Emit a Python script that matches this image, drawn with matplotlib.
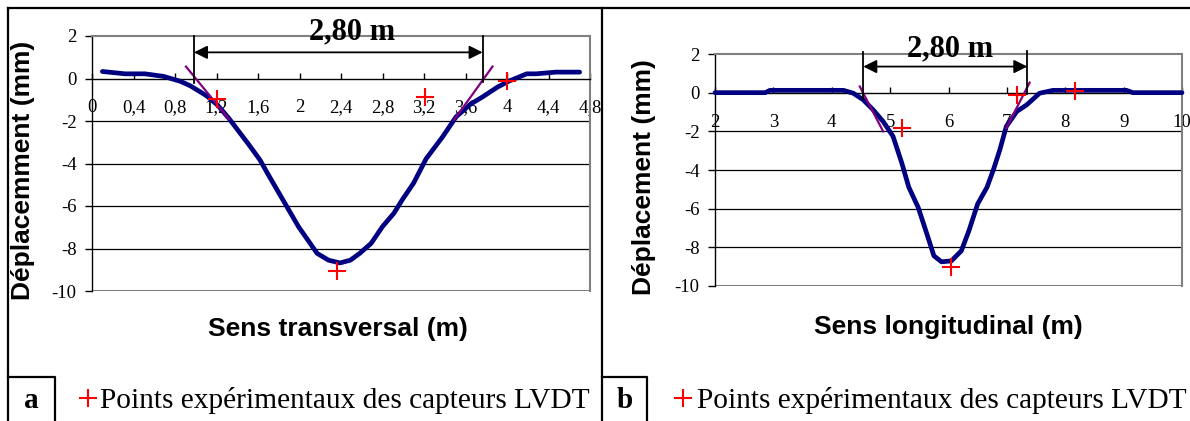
import matplotlib
matplotlib.use("Agg")
import matplotlib.pyplot as plt
from matplotlib.lines import Line2D

plt.rcParams['axes.unicode_minus'] = False

# ---------------- data ----------------
# Panel a : transverse profile
xa = [0.10, 0.32, 0.51, 0.69, 0.85, 0.95, 1.10, 1.21, 1.32, 1.51, 1.62, 1.69, 1.84, 1.99,
      2.17, 2.28, 2.39, 2.49, 2.58, 2.69, 2.80, 2.91, 2.99, 3.10, 3.22, 3.38, 3.51, 3.65,
      3.76, 3.91, 4.02, 4.19, 4.28, 4.47, 4.70]
ya = [0.33, 0.22, 0.22, 0.10, -0.13, -0.35, -0.80, -1.25, -1.88, -3.10, -3.84, -4.45, -5.71, -6.97,
      -8.23, -8.55, -8.68, -8.55, -8.23, -7.76, -6.97, -6.34, -5.71, -4.92, -3.78, -2.74, -1.80, -1.20,
      -0.88, -0.40, -0.12, 0.22, 0.22, 0.30, 0.30]
pts_a_x = [1.20, 2.36, 3.21, 4.00]
pts_a_y = [-0.96, -9.05, -0.89, -0.12]
tan_a_left_x = [0.906, 1.32]
tan_a_left_y = [0.56, -1.91]
tan_a_right_x = [3.49, 3.86]
tan_a_right_y = [-1.95, 0.56]
dim_a = [0.983, 3.765]
xticks_a = [0, 0.4, 0.8, 1.2, 1.6, 2, 2.4, 2.8, 3.2, 3.6, 4, 4.4, 4.8]
xticklabels_a = ["0", "0,4", "0,8", "1,2", "1,6", "2", "2,4", "2,8", "3,2", "3,6", "4", "4,4", "4,8"]

# Panel b : longitudinal profile
xb = [2.0, 2.86, 2.94, 4.20, 4.37, 4.54, 4.71, 4.88, 5.05, 5.20, 5.32, 5.48, 5.63, 5.75,
      5.88, 6.05, 6.22, 6.35, 6.50, 6.66, 6.77, 6.88, 6.99, 7.17, 7.34, 7.56, 7.79, 9.05,
      9.16, 10.0]
yb = [0.0, 0.0, 0.12, 0.12, -0.03, -0.37, -0.89, -1.49, -2.26, -3.64, -4.89, -5.93, -7.31, -8.44,
      -8.75, -8.70, -8.18, -7.14, -5.75, -4.89, -3.98, -2.95, -1.75, -0.97, -0.63, -0.03, 0.12, 0.12,
      0.0, 0.0]
pts_b_x = [5.21, 6.05, 7.18, 8.16]
pts_b_y = [-1.83, -9.0, -0.11, 0.09]
tan_b_left_x = [4.48, 4.88]
tan_b_left_y = [0.32, -2.0]
tan_b_right_x = [6.99, 7.39]
tan_b_right_y = [-1.83, 0.52]
dim_b = [4.54, 7.35]
xticks_b = [2, 3, 4, 5, 6, 7, 8, 9, 10]
xticklabels_b = ["2", "3", "4", "5", "6", "7", "8", "9", "10"]

yticks = [2, 0, -2, -4, -6, -8, -10]
yticklabels = ["2", "0", "-2", "-4", "-6", "-8", "-10"]
dim_label = "2,80 m"
legend_label = "Points expérimentaux des capteurs LVDT"

# ---------------- figure ----------------
W, H = 1190, 421
fig = plt.figure(figsize=(W / 100, H / 100), dpi=100)

SERIF = "Liberation Serif"
SANS = "Liberation Sans"
NAVY = "#000080"
PURPLE = "#800080"
GRAY = "#808080"


def px_axes(l, t, r, b):
    return fig.add_axes([l / W, 1 - b / H, (r - l) / W, (b - t) / H])


def setup(ax, xlim, xt, xtl):
    ax.set_xlim(*xlim)
    ax.set_ylim(-10, 2)
    ax.spines['top'].set_color(GRAY)
    ax.spines['right'].set_color(GRAY)
    ax.spines['top'].set_linewidth(1.5)
    ax.spines['right'].set_linewidth(1.5)
    ax.spines['left'].set_color('black')
    ax.spines['left'].set_linewidth(1.0)
    ax.spines['bottom'].set_position(('data', 0))
    ax.spines['bottom'].set_linewidth(1.0)
    ax.axhline(-10, color=GRAY, lw=1.5, zorder=1)
    for g in [-2, -4, -6, -8]:
        ax.axhline(g, color='black', lw=0.9, zorder=1)
    ax.set_xticks(xt)
    ax.set_xticklabels(xtl, fontfamily=SERIF, fontsize=13.5)
    ax.set_yticks(yticks)
    ax.set_yticklabels(yticklabels, fontfamily=SERIF, fontsize=13.5)
    ax.tick_params(axis='x', direction='in', length=4, pad=15, width=1)
    ax.tick_params(axis='y', direction='out', length=5, pad=6, width=1)
    ax.patch.set_alpha(0)


def draw(ax, x, y, px, py, tl, tr, dim, arrow_y, lab_xy, vtops, vbots):
    ax.plot(x, y, color=NAVY, lw=3.4, zorder=4, solid_capstyle='round',
            solid_joinstyle='round', clip_on=False)
    ax.plot(tl[0], tl[1], color=PURPLE, lw=1.6, zorder=4.5, clip_on=False)
    ax.plot(tr[0], tr[1], color=PURPLE, lw=1.6, zorder=4.5, clip_on=False)
    ax.plot(px, py, linestyle='none', marker='+', color='red', markersize=13,
            markeredgewidth=1.5, zorder=5, clip_on=False)
    for xv, yt, ybt in zip(dim, vtops, vbots):
        ax.plot([xv, xv], [yt, ybt], color='black', lw=1.3, zorder=6, clip_on=False)
    ax.annotate('', xy=(dim[1], arrow_y), xytext=(dim[0], arrow_y),
                arrowprops=dict(arrowstyle='<|-|>', color='black', lw=1.3,
                                mutation_scale=20, shrinkA=0, shrinkB=0),
                annotation_clip=False, zorder=6)
    ax.text(lab_xy[0], lab_xy[1], dim_label, fontfamily=SERIF, fontweight='bold',
            fontsize=22, ha='center', va='center', clip_on=False, zorder=7)


axa = px_axes(92, 36, 590, 291)
setup(axa, (0, 4.8), xticks_a, xticklabels_a)
draw(axa, xa, ya, pts_a_x, pts_a_y, (tan_a_left_x, tan_a_left_y),
     (tan_a_right_x, tan_a_right_y), dim_a, 1.23, (2.51, 2.19), [2, 2], [-0.22, -0.15])

axb = px_axes(715, 54, 1182, 286)
setup(axb, (2, 10), xticks_b, xticklabels_b)
draw(axb, xb, yb, pts_b_x, pts_b_y, (tan_b_left_x, tan_b_left_y),
     (tan_b_right_x, tan_b_right_y), dim_b, 1.35, (6.03, 2.28), [2.12, 2.17], [-0.31, -0.05])


def ftext(x, y, s, **kw):
    fig.text(x / W, 1 - y / H, s, **kw)


# axis titles
ftext(23, 170, "Déplacemment (mm)", rotation=90, fontfamily=SANS, fontweight='bold',
      fontsize=19, ha='center', va='center')
ftext(644, 177, "Déplacement (mm)", rotation=90, fontfamily=SANS, fontweight='bold',
      fontsize=19, ha='center', va='center')
ftext(338, 329, "Sens transversal (m)", fontfamily=SANS, fontweight='bold',
      fontsize=19, ha='center', va='center')
ftext(948, 327, "Sens longitudinal (m)", fontfamily=SANS, fontweight='bold',
      fontsize=19, ha='center', va='center')


# frame lines
def fline(xs, ys, lw=1.6):
    fig.add_artist(Line2D([v / W for v in xs], [1 - v / H for v in ys],
                          color='black', lw=lw, transform=fig.transFigure))


fline([8, W], [8, 8])
fline([8, 8], [8, H])
fline([602, 602], [8, H])
fline([8, 55, 55], [377, 377, H])
fline([602, 647, 647], [377, 377, H])

# bottom legends
for bx, lab, px_, tx in [(31, "a", 88, 100), (625, "b", 683, 697)]:
    ftext(bx, 401, lab, fontfamily=SERIF, fontweight='bold', fontsize=21,
          ha='center', va='center')
    fig.add_artist(Line2D([px_ / W], [1 - 398 / H], linestyle='none', marker='+',
                          color='red', markersize=13, markeredgewidth=1.5,
                          transform=fig.transFigure))
    ftext(tx, 400, legend_label, fontfamily=SERIF,
          fontsize=21.2, ha='left', va='center')

fig.savefig("out.png", dpi=100)
